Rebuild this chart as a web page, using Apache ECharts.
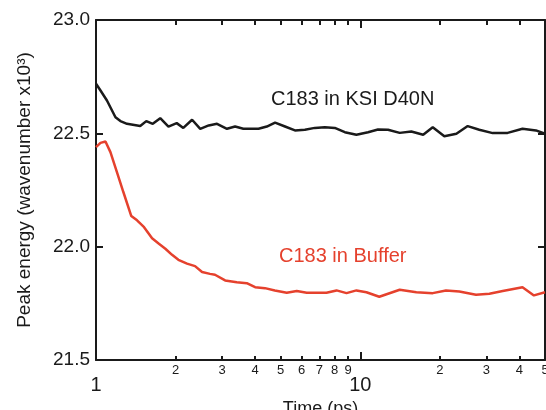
<!DOCTYPE html>
<html>
<head>
<meta charset="utf-8">
<script src="https://cdn.jsdelivr.net/npm/echarts@6/dist/echarts.min.js"></script>
<style>
  html, body { margin: 0; padding: 0; background: #fff; }
  #chart { width: 546px; height: 410px; }
</style>
</head>
<body>
<div id="chart"></div>
<script>
// C183 in KSI D40N (black)
const timeKsi = [1.00, 1.04, 1.10, 1.185, 1.237, 1.31, 1.47, 1.55, 1.64, 1.75, 1.88, 2.02, 2.14, 2.31, 2.48, 2.67, 2.87, 3.13, 3.36, 3.61,
  4.12, 4.43, 4.76, 5.19, 5.66, 6.17, 6.73, 7.34, 8.01, 8.74, 9.67, 10.7, 11.67, 12.73, 14.1, 15.6, 17.3, 18.8, 20.8, 23.1,
  25.5, 28.2, 31.7, 36.1, 41.1, 46.2, 50];
const peakKsi = [22.719, 22.689, 22.645, 22.571, 22.554, 22.542, 22.532, 22.554, 22.542, 22.567, 22.530, 22.545, 22.524, 22.560, 22.520, 22.535, 22.542, 22.520, 22.530, 22.520,
  22.520, 22.530, 22.547, 22.530, 22.513, 22.516, 22.524, 22.527, 22.524, 22.505, 22.494, 22.505, 22.517, 22.516, 22.502, 22.508, 22.494, 22.527, 22.487, 22.498,
  22.532, 22.516, 22.501, 22.502, 22.520, 22.513, 22.498];

// C183 in Buffer (red)
const timeBuf = [1.00, 1.04, 1.086, 1.134, 1.20, 1.27, 1.36, 1.43, 1.52, 1.63, 1.73, 1.83, 1.94, 2.05, 2.21, 2.37, 2.52, 2.70, 2.82, 3.08,
  3.41, 3.72, 4.00, 4.36, 4.75, 5.27, 5.75, 6.27, 6.83, 7.45, 8.13, 8.87, 9.67, 10.55, 11.8, 14.1, 16.3, 18.8, 21.1, 23.7,
  27.4, 30.8, 34.6, 41.1, 45.4, 50];
const peakBuf = [22.439, 22.458, 22.464, 22.417, 22.329, 22.240, 22.135, 22.116, 22.086, 22.037, 22.013, 21.991, 21.964, 21.942, 21.925, 21.914, 21.888, 21.880, 21.876, 21.851,
  21.843, 21.839, 21.821, 21.817, 21.807, 21.797, 21.804, 21.797, 21.797, 21.797, 21.807, 21.795, 21.807, 21.799, 21.779, 21.810, 21.799, 21.795, 21.807, 21.802,
  21.788, 21.792, 21.804, 21.821, 21.785, 21.799];

const minorTicks = [2, 3, 4, 5, 6, 7, 8, 9, 20, 30, 40, 50];
const majorTicks = [1, 10];
const yTicks = [21.5, 22.0, 22.5, 23.0];

const font = 'Liberation Sans, Arial, sans-serif';
const ink = '#1a1a1a';
const red = '#e5412d';

const pairs = (xs, ys) => xs.map((x, i) => [x, ys[i]]);

function logAxis(extra) {
  return Object.assign({
    type: 'log', logBase: 10, min: 1, max: 50, gridIndex: 0,
    splitLine: { show: false },
    minorTick: { show: false },
    minorSplitLine: { show: false },
    axisLine: { show: false },
    axisLabel: { show: false },
    axisTick: { show: false }
  }, extra);
}

const chart = echarts.init(document.getElementById('chart'));

chart.setOption({
  animation: false,
  backgroundColor: '#fff',
  textStyle: { fontFamily: font },
  grid: { left: 96, right: 1, top: 20, bottom: 50, outerBoundsMode: 'none' },
  xAxis: [
    logAxis({
      position: 'bottom',
      axisLine: { show: true, lineStyle: { color: ink, width: 2 } },
      axisTick: { show: true, inside: true, length: 4, customValues: minorTicks, lineStyle: { color: ink, width: 2 } },
      axisLabel: {
        show: true, customValues: minorTicks, margin: 4, fontSize: 13, color: ink, fontFamily: font,
        formatter: v => String(Math.round(v)).charAt(0)
      }
    }),
    logAxis({
      position: 'bottom',
      axisTick: { show: true, inside: true, length: 8, customValues: [10], lineStyle: { color: ink, width: 2 } },
      axisLabel: {
        show: true, customValues: majorTicks, margin: 15, fontSize: 20, color: ink, fontFamily: font,
        formatter: v => String(Math.round(v))
      },
      name: 'Time (ps)', nameLocation: 'middle', nameGap: 33,
      nameTextStyle: { fontSize: 18, color: ink, fontFamily: font }
    }),
    logAxis({
      position: 'top',
      axisLine: { show: true, lineStyle: { color: ink, width: 2 } },
      axisTick: { show: true, inside: true, length: 5, customValues: minorTicks, lineStyle: { color: ink, width: 2 } }
    }),
    logAxis({
      position: 'top',
      axisTick: { show: true, inside: true, length: 8, customValues: [10], lineStyle: { color: ink, width: 2 } }
    })
  ],
  yAxis: [
    {
      type: 'value', min: 21.5, max: 23.0, interval: 0.5, position: 'left',
      splitLine: { show: false },
      axisLine: { show: true, lineStyle: { color: ink, width: 2 } },
      axisTick: { show: true, inside: true, length: 7, customValues: yTicks, lineStyle: { color: ink, width: 2 } },
      axisLabel: { margin: 6, fontSize: 19, color: ink, fontFamily: font, formatter: v => v.toFixed(1) },
      name: 'Peak energy (wavenumber x10\u00B3)', nameLocation: 'middle', nameGap: 62,
      nameTextStyle: { fontSize: 19, color: ink, fontFamily: font }
    },
    {
      type: 'value', min: 21.5, max: 23.0, interval: 0.5, position: 'right',
      splitLine: { show: false },
      axisLine: { show: true, lineStyle: { color: ink, width: 2 } },
      axisTick: { show: true, inside: true, length: 7, lineStyle: { color: ink, width: 2 } },
      axisLabel: { show: false }
    }
  ],
  series: [
    {
      name: 'C183 in KSI D40N', type: 'line', xAxisIndex: 0, yAxisIndex: 0,
      data: pairs(timeKsi, peakKsi), showSymbol: false,
      lineStyle: { color: ink, width: 2.5 }, itemStyle: { color: ink }
    },
    {
      name: 'C183 in Buffer', type: 'line', xAxisIndex: 0, yAxisIndex: 0,
      data: pairs(timeBuf, peakBuf), showSymbol: false,
      lineStyle: { color: red, width: 2.5 }, itemStyle: { color: red }
    }
  ],
  graphic: [
    { type: 'text', left: 271, top: 89, style: { text: 'C183 in KSI D40N', fill: ink, font: '20px ' + font } },
    { type: 'text', left: 279, top: 246, style: { text: 'C183 in Buffer', fill: red, font: '20px ' + font } }
  ]
});
</script>
</body>
</html>
